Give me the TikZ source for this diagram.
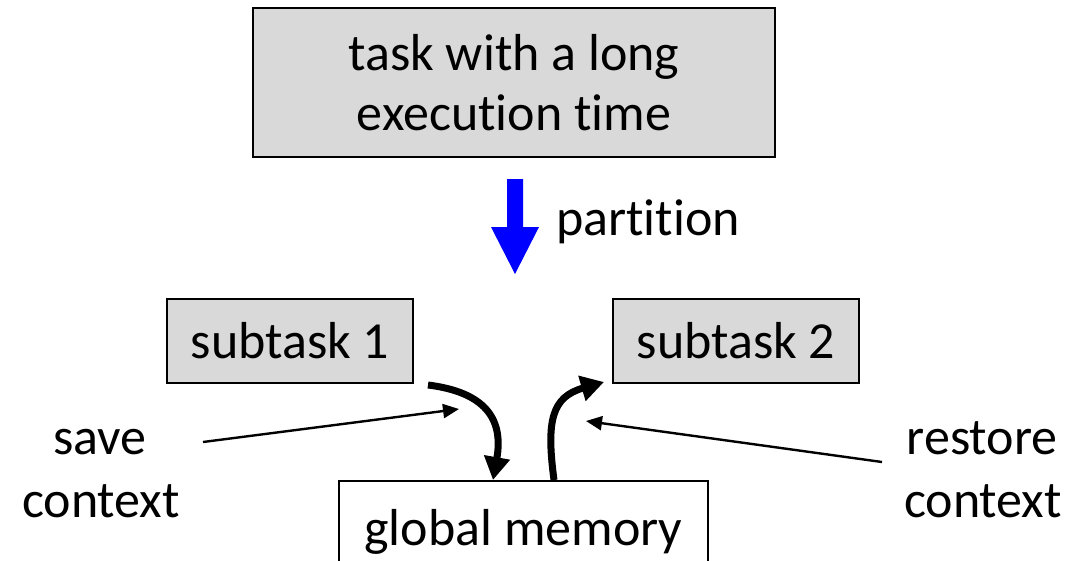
\documentclass[tikz,border=0pt]{standalone}
\usepackage{fontspec}
\setmainfont{Carlito}[RawFeature={-liga;-clig}]
\usetikzlibrary{arrows.meta}
\definecolor{boxgray}{HTML}{D9D9D9}
\definecolor{arrowblue}{HTML}{0000FF}
\begin{document}
\begin{tikzpicture}[x=1pt,y=-1pt,
  bigfont/.style={font=\fontsize{52}{60}\selectfont},
  graybox/.style={draw=black,line width=2.3pt,fill=boxgray,bigfont,inner sep=0pt},
  whitebox/.style={draw=black,line width=2.3pt,fill=white,bigfont,inner sep=0pt},
  label/.style={bigfont,inner sep=0pt},
  thickarrow/.style={line width=7pt,-{Triangle[length=23pt,width=25pt]}},
  thinarrow/.style={line width=2.4pt,-{Triangle[length=16pt,width=14pt]}}
]
\useasboundingbox (0,0) rectangle (1086,560);
% boxes
\node[graybox,minimum width=522pt,minimum height=149pt,align=center] (task) at (514,82.5) {task with a long\\execution time};
\node[graybox,minimum width=246pt,minimum height=84pt] (sub1) at (290,341) {subtask 1};
\node[graybox,minimum width=246pt,minimum height=84pt] (sub2) at (736,341) {subtask 2};
\node[whitebox,anchor=north,minimum width=369pt,inner ysep=25pt,text height=39pt,text depth=60pt] (mem) at (523.5,480) {global memory};
% partition arrow
\fill[arrowblue] (507,179) -- (523,179) -- (523,227) -- (539,227) -- (515,274) -- (491,227) -- (507,227) -- cycle;
\node[label,anchor=base west] (part) at (556,235) {partition};
% labels
\node[label,anchor=base] (save) at (100,454) {save};
\node[label,anchor=base] (savectx) at (101,517) {context};
\node[label,anchor=base] (restore) at (982,454) {restore};
\node[label,anchor=base] (restorectx) at (983,517) {context};
% coordinates
\coordinate (s1out) at (428,385);
\coordinate (memin) at (493,480);
\coordinate (memout) at (554,480);
\coordinate (s2in) at (604,382);
\coordinate (savetail) at (203,442);
\coordinate (savetip) at (459,409);
\coordinate (restail) at (882,462);
\coordinate (restip) at (586,421);
% thick arrows
\draw[thickarrow] (s1out) .. controls (484,392) and (504,418) .. (memin);
\draw[thickarrow] (memout) .. controls (546,420) and (552,397) .. (s2in);
% thin arrows
\draw[thinarrow] (savetail) -- (savetip);
\draw[thinarrow] (restail) -- (restip);
\end{tikzpicture}
\end{document}
